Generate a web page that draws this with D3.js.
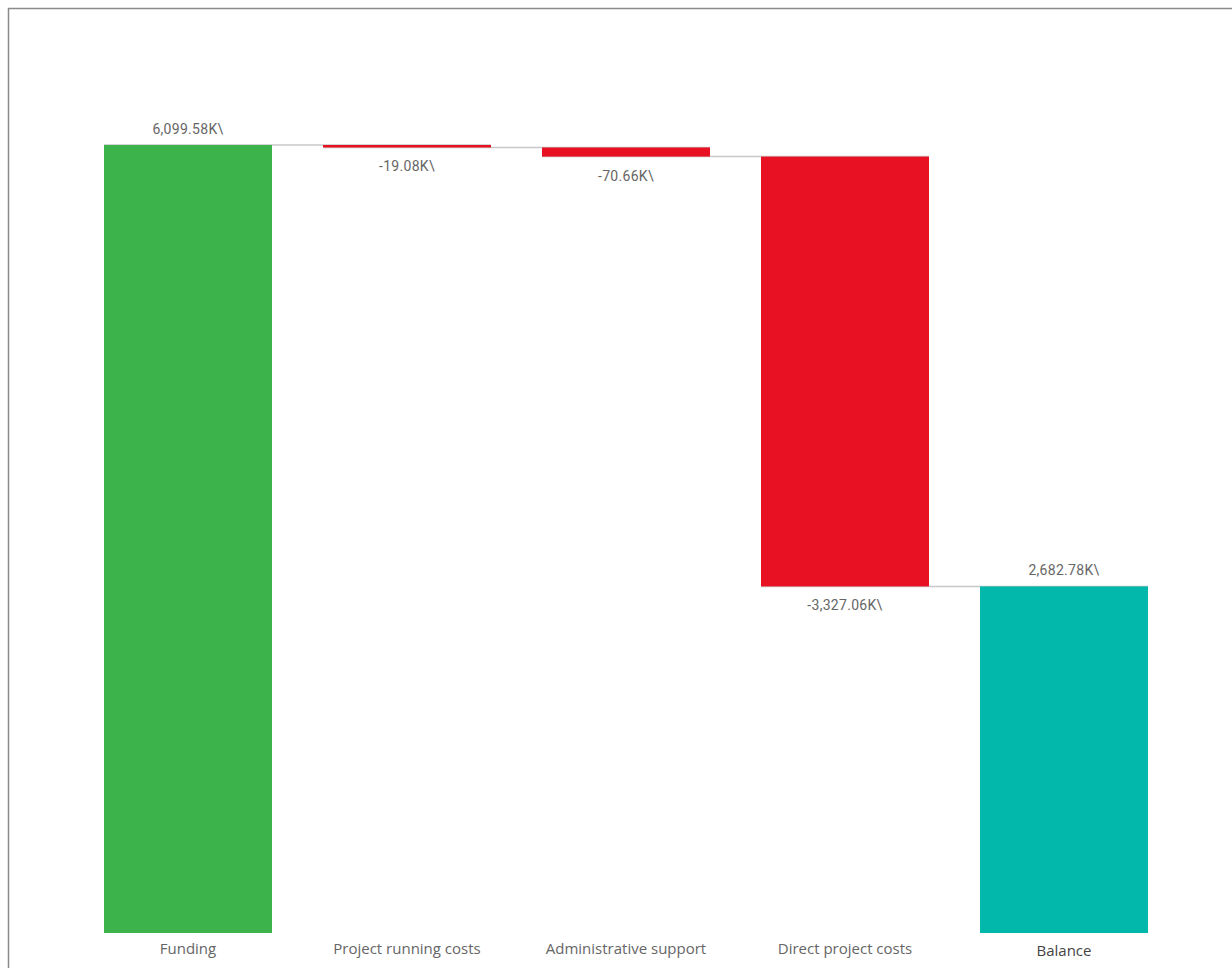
<!DOCTYPE html>
<html><head><meta charset="utf-8">
<script src="https://cdn.jsdelivr.net/npm/d3@7"></script>
<style>
html,body{margin:0;padding:0;background:#fff;}
svg{display:block;}
</style></head>
<body><svg id="chart" width="1232" height="968"></svg>
<script>
const categories = ["Funding","Project running costs","Administrative support","Direct project costs","Balance"];
const values = [6099.58, -19.08, -70.66, -3327.06, 2682.78];
const kinds = ["start","delta","delta","delta","total"];
const valueLabels = ["6,099.58K\\","-19.08K\\","-70.66K\\","-3,327.06K\\","2,682.78K\\"];

const colors = {start:"#3cb44b", neg:"#e81123", total:"#01b8aa"};

const svg = d3.select("#chart");

// frame
svg.append("path").attr("d", `M8.5,968 L8.5,8.5 L1232,8.5`).attr("fill","none").attr("stroke","#8a8a8a").attr("stroke-width",1.5);

const x = d3.scaleBand().domain(categories).range([80, 1172]).paddingInner(0.2329).paddingOuter(0.1096);
const y = d3.scaleLinear().domain([0, 6099.58]).range([933, 145]);

// compute waterfall
let run = 0;
const bars = categories.map((c,i) => {
  let y0, y1;
  if (kinds[i] === "start") { y0 = 0; y1 = values[i]; run = values[i]; }
  else if (kinds[i] === "total") { y0 = 0; y1 = values[i]; }
  else { y0 = run; y1 = run + values[i]; run = y1; }
  return {c, i, y0, y1, v: values[i], kind: kinds[i], end: y1};
});

const g = svg.append("g");

// connectors
bars.slice(0,-1).forEach((b,i) => {
  const nb = bars[i+1];
  g.append("line")
    .attr("x1", x(b.c)).attr("x2", x(nb.c) + x.bandwidth())
    .attr("y1", y(b.end)).attr("y2", y(b.end))
    .attr("stroke","#c8c8c8").attr("stroke-width",1.5);
});

// bars
g.selectAll("rect.bar").data(bars).join("rect")
  .attr("x", d => x(d.c))
  .attr("width", x.bandwidth())
  .attr("y", d => y(Math.max(d.y0,d.y1)))
  .attr("height", d => Math.abs(y(d.y0) - y(d.y1)))
  .attr("fill", d => d.kind==="start" ? colors.start : d.kind==="total" ? colors.total : colors.neg);

// value labels
g.selectAll("text.val").data(bars).join("text")
  .attr("x", d => x(d.c) + x.bandwidth()/2)
  .attr("y", d => d.v >= 0 ? y(Math.max(d.y0,d.y1)) - 11 : y(Math.min(d.y0,d.y1)) + 24)
  .attr("text-anchor","middle")
  .attr("font-family","Roboto, 'Open Sans', sans-serif")
  .attr("font-size", 14)
  .attr("letter-spacing", 0.3)
  .attr("fill","#666")
  .text((d,i) => valueLabels[i]);

// category axis labels
g.selectAll("text.cat").data(bars).join("text")
  .attr("x", d => x(d.c) + x.bandwidth()/2)
  .attr("y", d => d.kind==="total" ? 956 : 954)
  .attr("text-anchor","middle")
  .attr("font-family","'Open Sans', 'Noto Sans', sans-serif")
  .attr("font-size", 15)
  .attr("fill", d => d.kind==="total" ? "#444" : "#666")
  .text(d => d.c);
</script>
</body></html>
